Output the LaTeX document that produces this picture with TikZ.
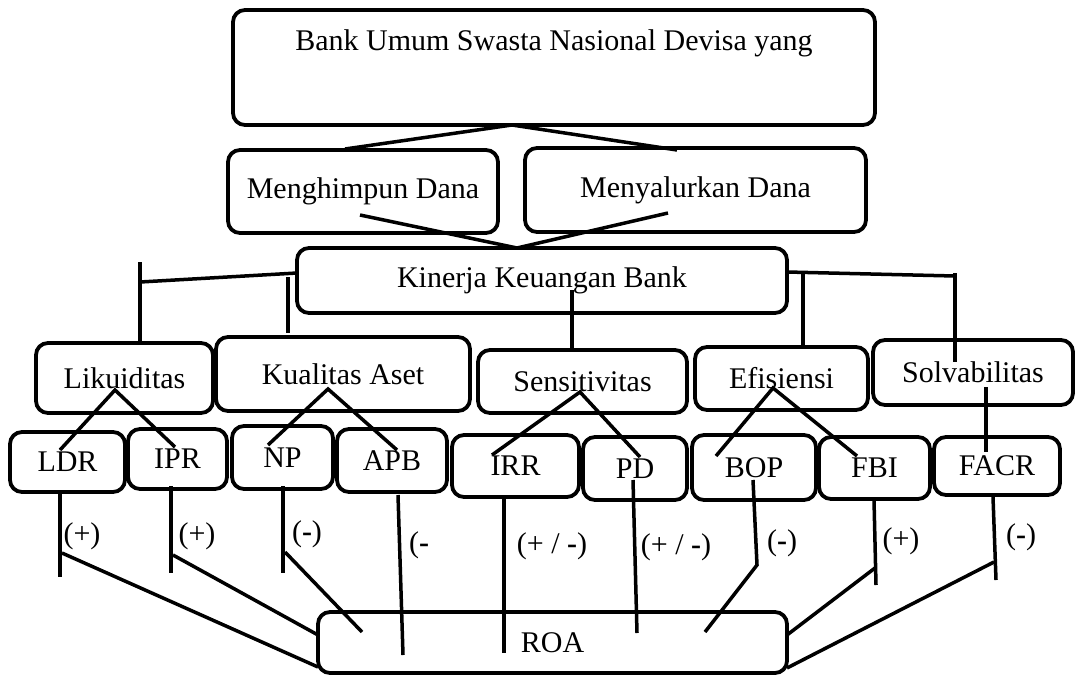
\documentclass[tikz,border=0pt]{standalone}
\usepackage{fontspec}
\setmainfont{Liberation Serif}
\usepackage{tikz}
\tikzset{
  basebox/.style={rectangle,rounded corners=12pt,draw=black,line width=3.8pt,
                  align=center,inner sep=0pt,font=\fontsize{30}{34}\selectfont},
  signlbl/.style={inner sep=0pt,font=\fontsize{30}{34}\selectfont},
  link/.style={line width=3.5pt,line join=miter}
}
\begin{document}
\begin{tikzpicture}[x=1pt,y=-1pt]
  \useasboundingbox (0,0) rectangle (1081,675);

  % Boxes, top to bottom
  \node[basebox,minimum width=642pt,minimum height=115pt] (bank) at (554,67.5)
       {Bank Umum Swasta Nasional Devisa yang\\[20pt]\mbox{}};
  \node[basebox,minimum width=270pt,minimum height=83pt] (himpun) at (363,191.5) {Menghimpun Dana};
  \node[basebox,minimum width=341pt,minimum height=84pt] (salur) at (695.5,190) {Menyalurkan Dana};
  \node[basebox,minimum width=490pt,minimum height=65pt] (kinerja) at (542,280.5) {Kinerja Keuangan Bank};

  \node[basebox,minimum width=177pt,minimum height=70pt] (likuid) at (124.5,378) {Likuiditas};
  \node[basebox,minimum width=254pt,minimum height=74pt] (aset) at (343,374) {Kualitas Aset};
  \node[basebox,minimum width=209pt,minimum height=63pt] (sensi) at (582.5,381.5) {Sensitivitas};
  \node[basebox,minimum width=173pt,minimum height=63pt] (efis) at (781.5,378.5) {Efisiensi};
  \node[basebox,minimum width=200pt,minimum height=65pt] (solva) at (973,372.5) {Solvabilitas};

  \node[basebox,minimum width=115pt,minimum height=60pt] (ldr) at (67.5,462) {LDR};
  \node[basebox,minimum width=99pt,minimum height=60pt] (ipr) at (177.5,459) {IPR};
  \node[basebox,minimum width=101pt,minimum height=63pt] (np) at (282.5,457.5) {NP};
  \node[basebox,minimum width=110pt,minimum height=63pt] (apb) at (392,460.5) {APB};
  \node[basebox,minimum width=127pt,minimum height=62pt] (irr) at (515.5,466) {IRR};
  \node[basebox,minimum width=104pt,minimum height=63pt] (pd) at (635,468.5) {PD};
  \node[basebox,minimum width=124pt,minimum height=65pt] (bop) at (754,467.5) {BOP};
  \node[basebox,minimum width=111pt,minimum height=62pt] (fbi) at (874.5,468) {FBI};
  \node[basebox,minimum width=126pt,minimum height=58pt] (facr) at (997,466) {FACR};

  \node[basebox,minimum width=469pt,minimum height=61pt] (roa) at (552.5,642.5) {ROA};

  % Signs
  \node[signlbl] (sLdr) at (82,536) {(+)};
  \node[signlbl] (sIpr) at (197,536) {(+)};
  \node[signlbl] (sNp) at (307,534) {(\textbf{-})};
  \node[signlbl] (sApb) at (419,545) {(\textbf{-}};
  \node[signlbl] (sIrr) at (552,546) {(+ / \textbf{-})};
  \node[signlbl] (sPd) at (676,547) {(+ / \textbf{-})};
  \node[signlbl] (sBop) at (782,543) {(\textbf{-})};
  \node[signlbl] (sFbi) at (901,541) {(+)};
  \node[signlbl] (sFacr) at (1021,537) {(\textbf{-})};

  % Bank -> Dana
  \coordinate (bankFoot) at (512,125);
  \coordinate (himpunTop) at (345,149);
  \coordinate (salurTop) at (677,150);
  \draw[link] (himpunTop) -- (bankFoot) -- (salurTop);

  % Dana -> Kinerja
  \coordinate (himpunIn) at (360,215);
  \coordinate (salurIn) at (668,213);
  \coordinate (kinTop) at (517,248);
  \draw[link] (himpunIn) -- (kinTop) -- (salurIn);

  % Kinerja -> aspects, left side
  \coordinate (kinLeft) at (297,273);
  \coordinate (likBar) at (140,282);
  \coordinate (likBarTop) at (140,262);
  \coordinate (likBarFoot) at (140,342);
  \draw[link] (kinLeft) -- (likBar);
  \draw[link] (likBarTop) -- (likBarFoot);
  \coordinate (asetStemTop) at (288,277);
  \coordinate (asetStemFoot) at (288,333);
  \draw[link] (asetStemTop) -- (asetStemFoot);

  % middle
  \coordinate (kinMid) at (572,290);
  \coordinate (sensiTop) at (572,349);
  \draw[link] (kinMid) -- (sensiTop);

  % right side
  \coordinate (kinRight) at (787,272);
  \coordinate (solBar) at (955,276);
  \coordinate (efisBarTop) at (803,272);
  \coordinate (efisTop) at (803,346);
  \coordinate (solBarTop) at (955,273);
  \coordinate (solStemFoot) at (955,362);
  \draw[link] (kinRight) -- (solBar);
  \draw[link] (efisBarTop) -- (efisTop);
  \draw[link] (solBarTop) -- (solStemFoot);

  % Aspects -> ratios
  \coordinate (likApex) at (115,390);
  \coordinate (ldrTop) at (60,450);
  \coordinate (iprTop) at (175,447);
  \draw[link] (ldrTop) -- (likApex) -- (iprTop);
  \coordinate (asetApex) at (328,389);
  \coordinate (npTop) at (268,445);
  \coordinate (apbTop) at (397,450);
  \draw[link] (npTop) -- (asetApex) -- (apbTop);
  \coordinate (sensiApex) at (580,392);
  \coordinate (irrTop) at (492,455);
  \coordinate (pdTop) at (640,457);
  \draw[link] (irrTop) -- (sensiApex) -- (pdTop);
  \coordinate (efisApex) at (773,388);
  \coordinate (bopTop) at (716,456);
  \coordinate (fbiTop) at (857,456);
  \draw[link] (bopTop) -- (efisApex) -- (fbiTop);
  \coordinate (solApex) at (986,387);
  \coordinate (facrTop) at (986,452);
  \draw[link] (solApex) -- (facrTop);

  % Ratios -> ROA
  \coordinate (ldrStem) at (60,490);
  \coordinate (ldrTail) at (60,577);
  \coordinate (ldrKnee) at (62,553);
  \coordinate (roaLowLeft) at (318,667);
  \draw[link] (ldrStem) -- (ldrTail);
  \draw[link] (ldrKnee) -- (roaLowLeft);

  \coordinate (iprStem) at (171,486);
  \coordinate (iprTail) at (171,573);
  \coordinate (iprKnee) at (173,555);
  \coordinate (roaUpLeft) at (318,635);
  \draw[link] (iprStem) -- (iprTail);
  \draw[link] (iprKnee) -- (roaUpLeft);

  \coordinate (npStem) at (283,486);
  \coordinate (npTail) at (283,573);
  \coordinate (npKnee) at (285,552);
  \coordinate (npEnd) at (362,632);
  \draw[link] (npStem) -- (npTail);
  \draw[link] (npKnee) -- (npEnd);

  \coordinate (apbStem) at (398,495);
  \coordinate (apbEnd) at (403,655);
  \draw[link] (apbStem) -- (apbEnd);

  \coordinate (irrStem) at (504,495);
  \coordinate (irrEnd) at (504,653);
  \draw[link] (irrStem) -- (irrEnd);

  \coordinate (pdStem) at (633,480);
  \coordinate (pdEnd) at (637,633);
  \draw[link] (pdStem) -- (pdEnd);

  \coordinate (bopStem) at (753,480);
  \coordinate (bopKnee) at (757,565);
  \coordinate (bopEnd) at (705,632);
  \draw[link] (bopStem) -- (bopKnee) -- (bopEnd);

  \coordinate (fbiStem) at (874,500);
  \coordinate (fbiTail) at (876,585);
  \coordinate (fbiKnee) at (875,568);
  \coordinate (roaUpRight) at (787,635);
  \draw[link] (fbiStem) -- (fbiTail);
  \draw[link] (fbiKnee) -- (roaUpRight);

  \coordinate (facrStem) at (993,497);
  \coordinate (facrTail) at (996,580);
  \coordinate (facrKnee) at (994,562);
  \coordinate (roaLowRight) at (787,668);
  \draw[link] (facrStem) -- (facrTail);
  \draw[link] (facrKnee) -- (roaLowRight);

\end{tikzpicture}
\end{document}
